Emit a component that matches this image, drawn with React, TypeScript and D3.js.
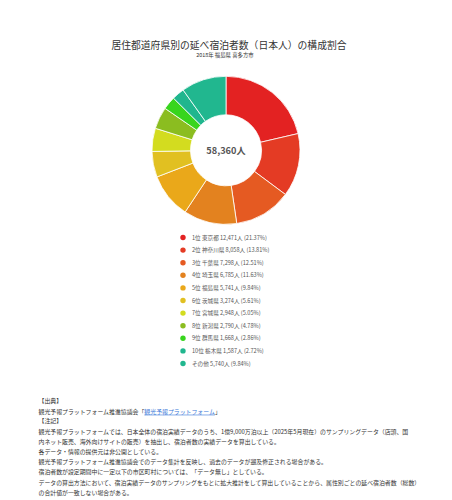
import React from "react";
import * as d3 from "d3";

const title = "居住都道府県別の延べ宿泊者数（日本人）の構成割合";
const subtitle = "2018年 福島県 喜多方市";
const categories = ["1位 東京都", "2位 神奈川県", "3位 千葉県", "4位 埼玉県", "5位 福島県", "6位 茨城県", "7位 宮城県", "8位 新潟県", "9位 群馬県", "10位 栃木県", "その他"];
const values = [12471, 8058, 7298, 6785, 5741, 3274, 2948, 2790, 1668, 1587, 5740];
const colors = ["#e32222", "#e43b24", "#e55a22", "#e3821f", "#eaa81a", "#e1c021", "#d3dc1f", "#8bbd20", "#38d51d", "#20b68e", "#21b78f"];
const notes = [
  "観光予報プラットフォームでは、日本全体の宿泊実績データのうち、1億9,000万泊以上（2025年5月現在）のサンプリングデータ（店頭、国",
  "内ネット販売、海外向けサイトの販売）を抽出し、宿泊者数の実績データを算出している。",
  "各データ・情報の提供元は非公開としている。",
  "観光予報プラットフォーム推進協議会でのデータ集計を反映し、過去のデータが遡及修正される場合がある。",
  "宿泊者数が設定期間中に一定以下の市区町村については、「データ無し」としている。",
  "データの算出方法において、宿泊実績データのサンプリングをもとに拡大推計をして算出していることから、属性別ごとの延べ宿泊者数（総数）",
  "の合計値が一致しない場合がある。",
];

const FONT = "'Noto Sans CJK JP', 'Noto Sans', sans-serif";

export default function App() {
  const W = 452, H = 500;
  const cx = 226, cy = 150.3, R = 74, r = 35.5;
  const total = d3.sum(values);
  const pie = d3.pie<number>().sort(null).value((d) => d);
  const arcs = pie(values);
  const arc = d3.arc<d3.PieArcDatum<number>>().innerRadius(r).outerRadius(R);
  const fmt = d3.format(",");
  const legendY = d3.scaleLinear().domain([0, 10]).range([237.5, 363.5]);
  const noteY = (i: number) => 403 + i * 10.2;

  return (
    <svg width={W} height={H} style={{ position: "absolute", left: 0, top: 0 }} fontFamily={FONT}>
      <rect width={W} height={H} fill="#fff" />
      <text x={229} y={48.5} textAnchor="middle" fontSize={9.8} fill="#333">{title}</text>
      <text x={225} y={56.5} textAnchor="middle" fontSize={5.4} fill="#333">{subtitle}</text>
      <g transform={`translate(${cx},${cy})`}>
        {arcs.map((a, i) => (
          <path key={i} d={arc(a) || ""} fill={colors[i]} stroke="#fff" strokeWidth={0.8} />
        ))}
        <text x={0} y={3.3} textAnchor="middle" fontSize={9.2} fontWeight="bold" fill="#555">{fmt(total)}人</text>
      </g>
      <g>
        {categories.map((c, i) => (
          <g key={i} transform={`translate(0,${legendY(i)})`}>
            <circle cx={183} cy={0} r={2.7} fill={colors[i]} />
            <text x={192} y={2} fontSize={5.6} fill="#555">
              {`${c} ${fmt(values[i])}人 (${((values[i] / total) * 100).toFixed(2)}%)`}
            </text>
          </g>
        ))}
      </g>
      <g fontSize={5.9} fill="#333">
        <text x={38.5} y={noteY(0)}>【出典】</text>
        <text x={38.5} y={noteY(1) + 0.5}>
          観光予報プラットフォーム推進協議会「
          <tspan fill="#3a78d8" textDecoration="underline" style={{ textDecoration: "underline" }}>観光予報プラットフォーム</tspan>
          」
        </text>
        <text x={38.5} y={noteY(2)}>【注記】</text>
        {notes.map((n, i) => (
          <text key={i} x={38.5} y={noteY(3 + i)}>{n}</text>
        ))}
      </g>
    </svg>
  );
}
